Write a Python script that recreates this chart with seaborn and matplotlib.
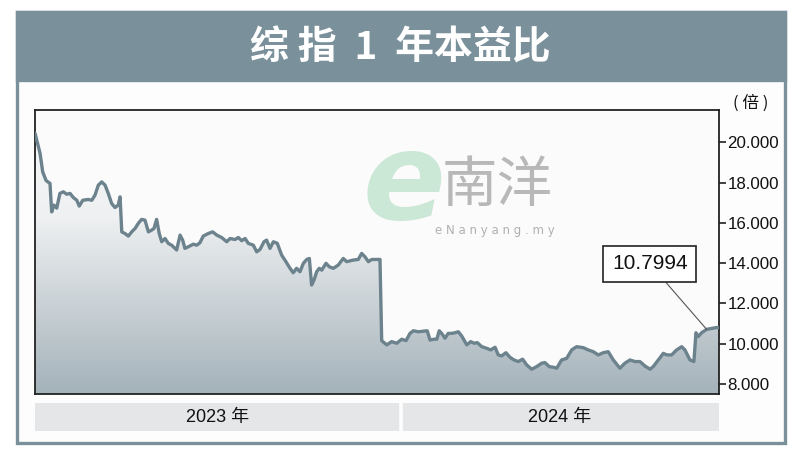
import numpy as np
import pandas as pd
import seaborn as sns
import matplotlib.pyplot as plt
import matplotlib.dates as mdates
from matplotlib.patches import Rectangle, PathPatch
from matplotlib.colors import LinearSegmentedColormap

# data (days since start, P/E ratio)
start_date = "2023-06-20"
end_date = "2024-06-19"
year_break = "2024-01-01"
day_offsets = [0, 2.7, 4.1, 5.9, 6.9, 8.0, 8.9, 10.1, 11.6, 13.3, 15.1, 16.9, 18.7, 20.4,
               22.3, 23.6, 25.5, 28.4, 30.3, 32.0, 33.8, 35.6, 37.4, 39.1, 40.9, 42.7,
               44.4, 45.4, 46.3, 48.0, 49.8, 51.6, 53.4, 55.1, 56.9, 58.7, 60.5, 62.3,
               63.5, 64.9, 66.3, 67.6, 69.4, 71.1, 72.9, 75.6, 77.4, 78.8, 80.0, 81.8,
               84.5, 86.3, 88.0, 89.8, 92.5, 94.8, 97.0, 99.6, 102.3, 104.1, 106.7,
               108.5, 110.3, 112.1, 113.8, 116.5, 118.3, 120.1, 122.2, 123.6, 125.4,
               127.2, 129.3, 131.6, 133.9, 136.1, 137.8, 139.6, 141.4, 143.2, 145.0,
               146.4, 147.6, 148.9, 150.3, 151.7, 153.0, 155.3, 157.0, 159.2, 161.8,
               164.5, 166.3, 169.8, 172.5, 174.3, 176.1, 177.9, 179.7, 184.1, 185.0,
               187.7, 190.3, 193.0, 195.7, 198.0, 200.1, 201.9, 204.5, 207.2, 209.3,
               210.8, 212.9, 214.4, 215.7, 217.0, 218.8, 220.5, 222.3, 224.1, 225.9,
               227.7, 230.4, 232.5, 234.3, 236.0, 238.4, 241.0, 243.2, 245.5, 247.2,
               249.0, 251.3, 253.5, 255.6, 257.9, 260.2, 262.4, 265.0, 267.7, 270.4,
               272.1, 274.4, 276.6, 278.4, 281.0, 283.7, 286.4, 289.0, 292.6, 295.2,
               297.9, 300.6, 303.2, 305.9, 308.6, 312.1, 314.8, 317.5, 320.2, 322.8,
               325.5, 328.2, 329.9, 332.6, 335.3, 337.1, 339.7, 342.4, 345.1, 346.8,
               349.5, 351.6, 352.7, 353.9, 355.7, 358.4, 363.7, 365.0]
pe_ratio = [20.45, 19.45, 18.53, 18.10, 18.03, 17.96, 16.54, 16.88, 16.73, 17.46, 17.54,
            17.42, 17.46, 17.26, 17.12, 16.83, 17.12, 17.16, 17.12, 17.37, 17.87, 18.03,
            17.87, 17.46, 16.96, 16.76, 16.88, 17.29, 15.55, 15.47, 15.34, 15.55, 15.72,
            15.97, 16.17, 16.13, 15.55, 15.64, 15.72, 16.17, 15.47, 15.06, 15.22, 14.98,
            14.89, 14.65, 15.39, 15.14, 14.73, 14.81, 14.94, 14.89, 15.01, 15.34, 15.47,
            15.55, 15.39, 15.27, 15.06, 15.22, 15.17, 15.27, 15.11, 15.22, 14.98, 14.89,
            14.56, 14.68, 15.06, 15.14, 14.73, 15.06, 14.98, 14.40, 14.07, 13.74, 13.52,
            13.74, 13.57, 13.99, 14.18, 14.23, 12.91, 13.16, 13.57, 13.74, 13.65, 13.99,
            13.82, 13.74, 13.90, 14.23, 14.07, 14.15, 14.18, 14.48, 14.31, 14.07, 14.18,
            14.18, 10.15, 9.94, 10.10, 10.02, 10.22, 10.15, 10.51, 10.64, 10.59, 10.62,
            10.64, 10.18, 10.22, 10.22, 10.64, 10.51, 10.27, 10.51, 10.51, 10.54, 10.59,
            10.38, 9.94, 10.10, 10.02, 10.05, 9.85, 9.77, 9.69, 9.82, 9.44, 9.39, 9.55,
            9.32, 9.19, 9.11, 9.23, 8.94, 8.73, 8.86, 9.03, 9.06, 8.86, 8.83, 8.78, 9.19,
            9.27, 9.69, 9.85, 9.80, 9.69, 9.60, 9.44, 9.55, 9.60, 9.19, 8.78, 9.03, 9.19,
            9.11, 9.11, 8.89, 8.73, 8.86, 9.19, 9.52, 9.44, 9.44, 9.69, 9.85, 9.69, 9.19,
            9.11, 10.54, 10.35, 10.54, 10.71, 10.80, 10.7994]
last_value = 10.7994
y_ticks = [8, 10, 12, 14, 16, 18, 20]
band_labels = ["2023 年", "2024 年"]
title = "综 指  1  年本益比"
unit = "( 倍 )"

sns.set_theme(style="white")
plt.rcParams['font.family'] = ['Liberation Sans', 'Noto Sans CJK SC', 'DejaVu Sans']

frame_c = '#7a909a'
line_c = '#6c838e'
ymin, ymax = 7.5, 21.6

dates = pd.Timestamp(start_date) + pd.to_timedelta(day_offsets, unit="D")
df = pd.DataFrame({"date": dates, "pe": pe_ratio})
t0, t1 = pd.Timestamp(start_date), pd.Timestamp(end_date)

fig = plt.figure(figsize=(8, 4.59), dpi=100)
fig.patch.set_facecolor('white')

# outer frame + title band
fig.add_artist(Rectangle((0.02125, 0.0349), 0.96, 0.939, transform=fig.transFigure,
                         fc='#fdfdfd', ec=frame_c, lw=2.4, zorder=0))
fig.add_artist(Rectangle((0.02125, 0.8257), 0.96, 0.1482, transform=fig.transFigure,
                         fc=frame_c, ec=frame_c, lw=2.4, zorder=0))
fig.text(0.5, 0.896, title, color='white', fontsize=28, fontweight='bold',
         family=['Noto Sans CJK SC', 'DejaVu Sans'], ha='center', va='center')

ax = fig.add_axes([0.04375, 0.1416, 0.855, 0.6187])
ax.set_facecolor('#fbfbfb')
sns.lineplot(data=df, x='date', y='pe', ax=ax, color=line_c, linewidth=2.4, zorder=4)

# gradient under the line
fill = ax.fill_between(df['date'], df['pe'], ymin, facecolor='none', edgecolor='none')
clip = PathPatch(fill.get_paths()[0], transform=ax.transData, fc='none', ec='none')
ax.add_patch(clip)
cmap = LinearSegmentedColormap.from_list('bg', [(0, '#a4b2ba'), (0.62, '#eef0f1'), (1, '#f8f9f9')])
grad = np.linspace(0, 1, 256).reshape(-1, 1)
im = ax.imshow(grad, extent=[mdates.date2num(t0), mdates.date2num(t1), ymin, ymax],
               origin='lower', aspect='auto', cmap=cmap, zorder=1)
im.set_clip_path(clip)

ax.set_xlim(t0, t1)
ax.set_ylim(ymin, ymax)
ax.set_xticks([])
ax.set_xlabel('')
ax.set_ylabel('')
ax.yaxis.tick_right()
ax.set_yticks(y_ticks)
ax.set_yticklabels([f"{t:.3f}" for t in y_ticks], fontsize=12.2, color='#111')
ax.tick_params(axis='y', direction='out', length=5, width=1.2, color='#222', pad=1)
for s in ax.spines.values():
    s.set_visible(True)
    s.set_color('#222')
    s.set_linewidth(1.3)

ax.text(1.02, 1.025, unit, transform=ax.transAxes, fontsize=12, ha='left', va='center',
        family=['Noto Sans CJK SC', 'DejaVu Sans'], color='#111')

# last value callout
ax.annotate(f"{last_value}", xy=(df['date'].iloc[-3], df['pe'].iloc[-3]),
            xytext=(0.899, 0.458), textcoords='axes fraction', ha='center', va='center',
            fontsize=15, color='#111',
            bbox=dict(boxstyle='square,pad=0.42', fc='white', ec='#222', lw=1.2),
            arrowprops=dict(arrowstyle='-', color='#555', lw=0.8, shrinkA=0, shrinkB=0),
            zorder=6)

# watermark
fig.text(0.505, 0.595, 'e', fontsize=88, fontstyle='italic', fontweight='bold',
         color='#cbe7d5', ha='center', va='center', family='DejaVu Sans', zorder=3)
fig.text(0.622, 0.595, '南洋', fontsize=40, color='#b8b8b8', ha='center', va='center',
         family=['Noto Sans CJK SC'], zorder=3)
fig.text(0.618, 0.497, 'e N a n y a n g . m y', fontsize=8.5, color='#b0b0b0',
         ha='center', va='center', family='DejaVu Sans', zorder=3)

# year bands
axb = fig.add_axes([0.04375, 0.061, 0.855, 0.061])
brk = pd.Timestamp(year_break)
gap = pd.Timedelta(days=1.3)
axb.axvspan(t0, brk - gap, color='#e5e6e7')
axb.axvspan(brk + gap, t1, color='#e5e6e7')
axb.set_xlim(t0, t1)
axb.set_ylim(0, 1)
axb.text(t0 + (brk - t0) / 2, 0.5, band_labels[0], ha='center', va='center', fontsize=13, color='#111')
axb.text(brk + (t1 - brk) / 2, 0.5, band_labels[1], ha='center', va='center', fontsize=13, color='#111')
axb.axis('off')

fig.savefig('out.png', dpi=100, facecolor='white')
